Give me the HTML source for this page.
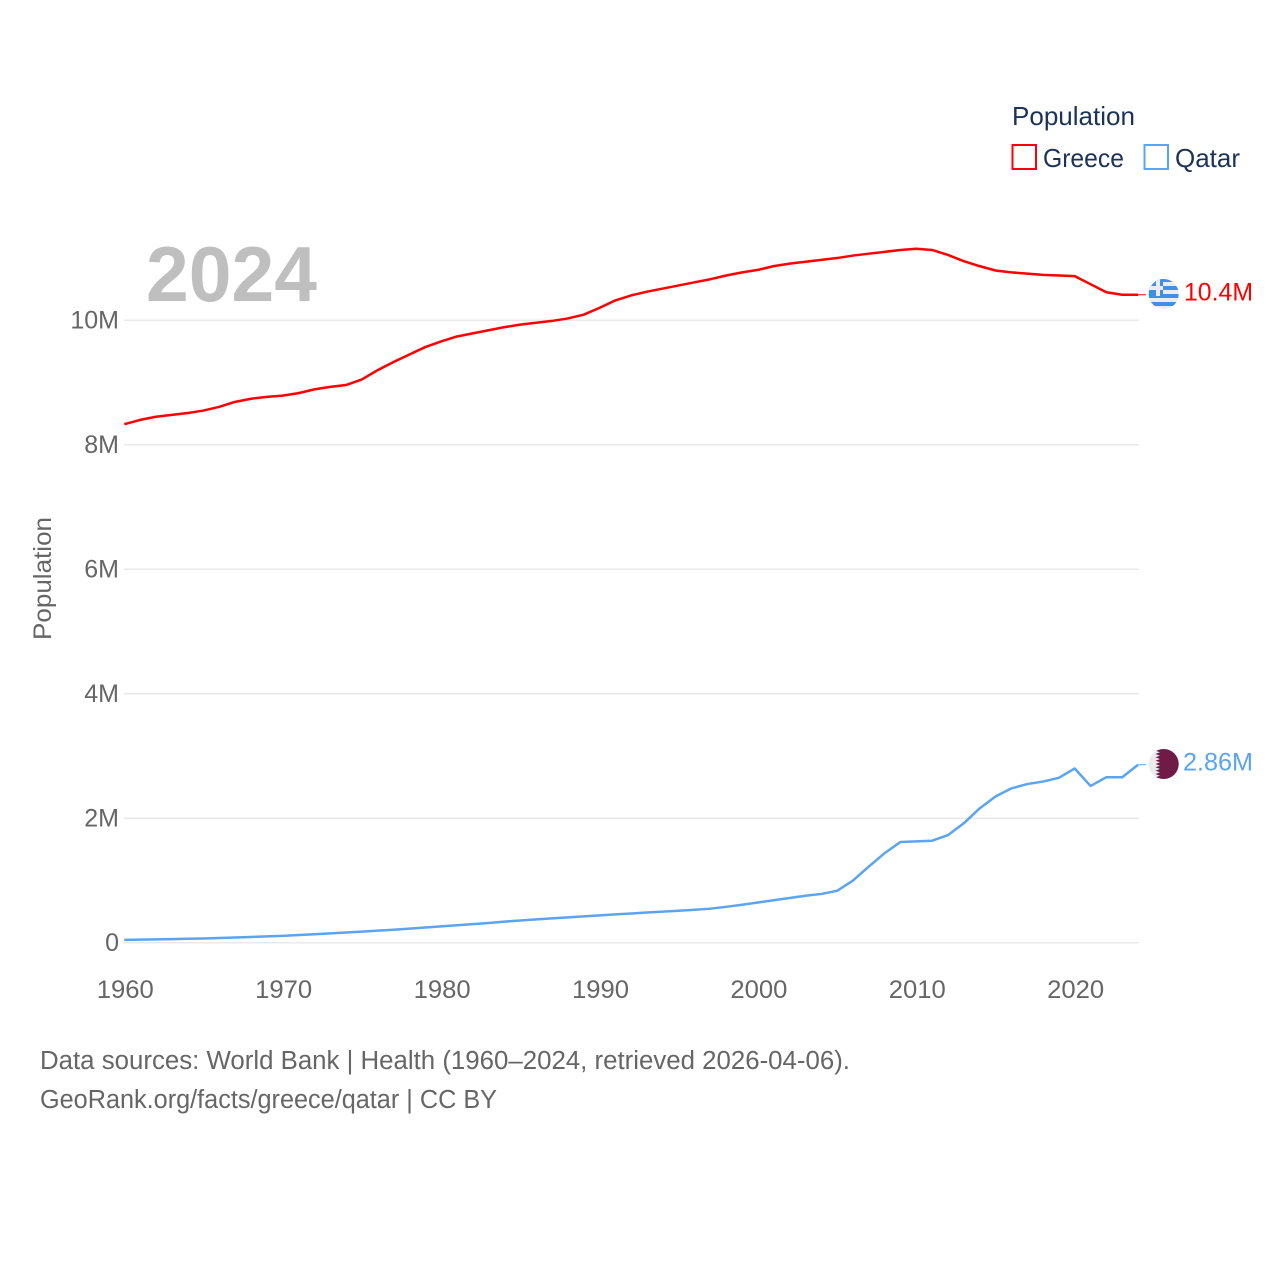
<!DOCTYPE html>
<html lang="en">
<head>
<meta charset="utf-8">
<title>Population: Greece and Qatar</title>
<style>
html,body{margin:0;padding:0;background:#fff;width:1280px;height:1280px;overflow:hidden}
svg{display:block}
text{font-family:"Liberation Sans",sans-serif}
</style>
</head>
<body>
<svg id="chart" width="1280" height="1280" viewBox="0 0 1280 1280" xmlns="http://www.w3.org/2000/svg">
  <defs>
    <clipPath id="flag-clip-gr"><circle cx="1163.7" cy="294" r="15"/></clipPath>
    <clipPath id="flag-clip-qa"><circle cx="1163.7" cy="764" r="15"/></clipPath>
  </defs>
  <rect width="1280" height="1280" fill="#ffffff"/>
  <g id="grid"></g>
  <g id="yticks"></g>
  <g id="xticks"></g>
  <text transform="translate(51,578.5) rotate(-90)" text-anchor="middle" font-size="25" fill="#666666" textLength="123" lengthAdjust="spacingAndGlyphs">Population</text>
  <text x="146" y="301" font-size="78" font-weight="700" fill="#bfbfbf" textLength="171" lengthAdjust="spacingAndGlyphs">2024</text>

  <g id="series"></g>

  <g clip-path="url(#flag-clip-gr)">
    <rect x="1148" y="278" width="32" height="32" fill="#ececec"/>
    <rect x="1148" y="278" width="32" height="4" fill="#3f8fe6"/>
    <rect x="1148" y="286" width="32" height="4" fill="#3f8fe6"/>
    <rect x="1148" y="294" width="32" height="4" fill="#3f8fe6"/>
    <rect x="1148" y="302" width="32" height="4" fill="#3f8fe6"/>
    <rect x="1148" y="278" width="15" height="18" fill="#3f8fe6"/>
    <rect x="1148" y="286" width="15" height="4" fill="#ececec"/>
    <rect x="1156" y="278" width="4" height="18" fill="#ececec"/>
  </g>
  <g clip-path="url(#flag-clip-qa)">
    <rect x="1148" y="748" width="32" height="32" fill="#ececec"/>
    <polygon fill="#701a47" points="1180,749 1160,749 1155.5,750.7 1160,752.3 1155.5,754 1160,755.7 1155.5,757.3 1160,759 1155.5,760.7 1160,762.3 1155.5,764 1160,765.7 1155.5,767.3 1160,769 1155.5,770.7 1160,772.3 1155.5,774 1160,775.7 1155.5,777.3 1160,779 1180,779"/>
  </g>

  <text x="1184" y="300.5" font-size="25" fill="#ff0000" textLength="69" lengthAdjust="spacingAndGlyphs">10.4M</text>
  <text x="1183" y="770.5" font-size="25" fill="#5ba4f0" textLength="70" lengthAdjust="spacingAndGlyphs">2.86M</text>

  <g>
    <text x="1012" y="125" font-size="26" fill="#1b3358" textLength="123" lengthAdjust="spacingAndGlyphs">Population</text>
    <rect x="1012.5" y="145" width="23.5" height="24" fill="#ffffff" stroke="#ff0000" stroke-width="2"/>
    <text x="1043" y="167" font-size="26" fill="#1b3358" textLength="81" lengthAdjust="spacingAndGlyphs">Greece</text>
    <rect x="1144.5" y="145" width="23.5" height="24" fill="#ffffff" stroke="#5ba4f0" stroke-width="2"/>
    <text x="1175" y="167" font-size="26" fill="#1b3358" textLength="65" lengthAdjust="spacingAndGlyphs">Qatar</text>
  </g>

  <text x="40" y="1069" font-size="25.5" fill="#666666" textLength="810" lengthAdjust="spacingAndGlyphs">Data sources: World Bank | Health (1960–2024, retrieved 2026-04-06).</text>
  <text x="40" y="1108" font-size="25.5" fill="#666666" textLength="457" lengthAdjust="spacingAndGlyphs">GeoRank.org/facts/greece/qatar | CC BY</text>
</svg>
<script>
const years = [1960,1961,1962,1963,1964,1965,1966,1967,1968,1969,1970,1971,1972,1973,1974,1975,1976,1977,1978,1979,1980,1981,1982,1983,1984,1985,1986,1987,1988,1989,1990,1991,1992,1993,1994,1995,1996,1997,1998,1999,2000,2001,2002,2003,2004,2005,2006,2007,2008,2009,2010,2011,2012,2013,2014,2015,2016,2017,2018,2019,2020,2021,2022,2023,2024];
const greeceMillions = [8.33,8.40,8.45,8.48,8.51,8.55,8.61,8.69,8.74,8.77,8.79,8.83,8.89,8.93,8.96,9.05,9.20,9.33,9.45,9.57,9.66,9.74,9.79,9.84,9.89,9.93,9.96,9.99,10.03,10.09,10.20,10.32,10.40,10.46,10.51,10.56,10.61,10.66,10.72,10.77,10.81,10.87,10.91,10.94,10.97,11.00,11.04,11.07,11.10,11.13,11.15,11.13,11.05,10.95,10.87,10.80,10.77,10.75,10.73,10.72,10.71,10.58,10.45,10.41,10.41];
const qatarMillions = [0.047,0.051,0.055,0.060,0.065,0.070,0.077,0.085,0.094,0.103,0.112,0.125,0.138,0.152,0.166,0.180,0.195,0.210,0.228,0.246,0.264,0.282,0.300,0.318,0.340,0.358,0.376,0.392,0.408,0.424,0.440,0.456,0.470,0.486,0.500,0.514,0.530,0.548,0.578,0.612,0.648,0.684,0.720,0.756,0.785,0.835,1.000,1.225,1.440,1.620,1.630,1.640,1.730,1.920,2.160,2.350,2.480,2.550,2.590,2.650,2.800,2.520,2.660,2.660,2.860];
const yTickValues = [0,2,4,6,8,10];
const yTickLabels = ["0","2M","4M","6M","8M","10M"];
const xTickValues = [1960,1970,1980,1990,2000,2010,2020];
const xTickLabels = ["1960","1970","1980","1990","2000","2010","2020"];

const NS = 'http://www.w3.org/2000/svg';
function xScale(year) { return 124.3 + (year - 1960) * 15.84; }
function yScale(millions) { return 942.8 - millions * 62.25; }
function make(tag, attrs, parent, content) {
  const el = document.createElementNS(NS, tag);
  for (const k in attrs) el.setAttribute(k, attrs[k]);
  if (content !== undefined) el.textContent = content;
  parent.appendChild(el);
  return el;
}
const gridGroup = document.getElementById('grid');
const yGroup = document.getElementById('yticks');
const xGroup = document.getElementById('xticks');
const seriesGroup = document.getElementById('series');

yTickValues.forEach(function (v, i) {
  const line = make('line', {x1: 124, x2: 1139, y1: yScale(v), y2: yScale(v), stroke: '#e9e9e9', 'stroke-width': 1.5}, gridGroup);
  
  
  const label = make('text', {x: 119, y: yScale(v) + 8, 'text-anchor': 'end', 'font-size': 25, fill: '#666666'}, yGroup, yTickLabels[i]);
  
  
});

xTickValues.forEach(function (v, i) {
  const label = make('text', {x: xScale(v) + 1, y: 998, 'text-anchor': 'middle', 'font-size': 25, fill: '#666666', textLength: 57, lengthAdjust: 'spacingAndGlyphs'}, xGroup, xTickLabels[i]);
  
  
});

function drawSeries(values, color) {
  const pts = values.map(function (v, i) { return xScale(years[i]) + ',' + yScale(v); }).join(' ');
  const last = values.length - 1;
  const lastX = xScale(years[last]);
  const lastY = yScale(values[last]);
  const connector = make('line', {x1: lastX, x2: lastX + 8, y1: lastY, y2: lastY, stroke: color, 'stroke-width': 1}, seriesGroup);
  
  
  return make('polyline', {points: pts, fill: 'none', stroke: color, 'stroke-width': 2.5, 'stroke-linejoin': 'round'}, seriesGroup);
}
const greeceLine = drawSeries(greeceMillions, '#ff0000');


const qatarLine = drawSeries(qatarMillions, '#5ba4f0');


</script>
</body>
</html>
